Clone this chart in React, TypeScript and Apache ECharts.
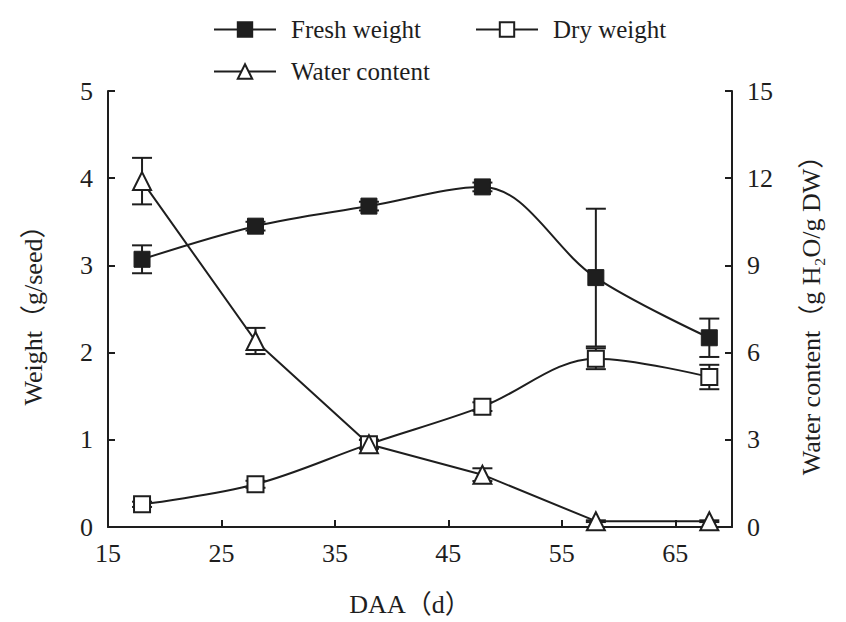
import React, { useEffect, useRef } from "react";
import * as echarts from "echarts";

// ---- Data ----
const daa = [18, 28, 38, 48, 58, 68];
const freshWeight = [3.07, 3.45, 3.68, 3.9, 2.86, 2.17];
const freshErr = [0.16, 0.05, 0.05, 0.05, 0.79, 0.22];
const dryWeight = [0.26, 0.49, 0.95, 1.38, 1.93, 1.72];
const dryErr = [0.03, 0.04, 0.05, 0.05, 0.12, 0.14];
const waterContent = [11.9, 6.4, 2.85, 1.8, 0.2, 0.2];
const waterErr = [0.8, 0.45, 0.15, 0.22, 0.03, 0.03];
const xTicks = [15, 25, 35, 45, 55, 65];

const FONT = "'Liberation Serif', 'Times New Roman', 'Noto Sans CJK SC', serif";
const INK = "#1e1e1e";

function pairs(xs: number[], ys: number[]) {
  return xs.map((x, i) => [x, ys[i]]);
}
function errRows(xs: number[], ys: number[], es: number[]) {
  return xs.map((x, i) => [x, ys[i] - es[i], ys[i] + es[i]]);
}

function errorSeries(name: string, rows: number[][], yAxisIndex: number) {
  return {
    type: "custom",
    name,
    yAxisIndex,
    z: 1,
    silent: true,
    data: rows,
    encode: { x: 0, y: [1, 2] },
    renderItem: (_params: any, api: any) => {
      const x = api.value(0);
      const lo = api.coord([x, api.value(1)]);
      const hi = api.coord([x, api.value(2)]);
      const half = 10;
      const style = { stroke: INK, lineWidth: 2 };
      return {
        type: "group",
        children: [
          { type: "line", shape: { x1: hi[0], y1: hi[1], x2: lo[0], y2: lo[1] }, style },
          { type: "line", shape: { x1: hi[0] - half, y1: hi[1], x2: hi[0] + half, y2: hi[1] }, style },
          { type: "line", shape: { x1: lo[0] - half, y1: lo[1], x2: lo[0] + half, y2: lo[1] }, style },
        ],
      };
    },
  };
}

export default function App() {
  const ref = useRef<HTMLDivElement>(null);
  useEffect(() => {
    document.body.style.margin = "0";
    const chart = echarts.init(ref.current!, null, { renderer: "svg" });
    const legendCommon = {
      itemWidth: 62,
      itemHeight: 18,
      selectedMode: false,
      textStyle: { fontFamily: FONT, fontSize: 25, color: INK, padding: [0, 0, 0, 10] },
    };
    const axisText = { fontFamily: FONT, fontSize: 26, color: INK };
    chart.setOption({
      animation: false,
      backgroundColor: "#fff",
      legend: [
        { ...legendCommon, data: ["Fresh weight"], left: 208, top: 12 },
        { ...legendCommon, data: ["Dry weight"], left: 470, top: 12 },
        { ...legendCommon, data: ["Water content"], left: 208, top: 54 },
      ],
      grid: { left: 108, right: 114, top: 91, bottom: 91 },
      xAxis: {
        type: "value",
        min: 15,
        max: 70,
        name: "DAA（d）",
        nameLocation: "middle",
        nameGap: 64,
        nameTextStyle: { ...axisText, padding: [0, 20, 0, 0] },
        axisLine: { show: true, lineStyle: { color: INK, width: 2 } },
        axisTick: { show: true, inside: true, length: 7, lineStyle: { color: INK, width: 2 }, customValues: xTicks },
        axisLabel: { ...axisText, margin: 13, customValues: xTicks },
        splitLine: { show: false },
      },
      yAxis: [
        {
          type: "value",
          min: 0,
          max: 5,
          interval: 1,
          position: "left",
          name: "Weight（g/seed）",
          nameLocation: "middle",
          nameRotate: 90,
          nameGap: 62,
          nameTextStyle: { ...axisText },
          axisLine: { show: true, lineStyle: { color: INK, width: 2 } },
          axisTick: { show: true, inside: true, length: 7, lineStyle: { color: INK, width: 2 } },
          axisLabel: { ...axisText, margin: 15 },
          splitLine: { show: false },
        },
        {
          type: "value",
          min: 0,
          max: 15,
          interval: 3,
          position: "right",
          name: "Water content（g H₂O/g DW）",
          nameLocation: "middle",
          nameRotate: 90,
          nameGap: 66,
          nameTextStyle: { ...axisText },
          axisLine: { show: true, lineStyle: { color: INK, width: 2 } },
          axisTick: { show: true, inside: true, length: 7, lineStyle: { color: INK, width: 2 } },
          axisLabel: { ...axisText, margin: 15 },
          splitLine: { show: false },
        },
      ],
      series: [
        errorSeries("fresh-err", errRows(daa, freshWeight, freshErr), 0),
        errorSeries("dry-err", errRows(daa, dryWeight, dryErr), 0),
        errorSeries("water-err", errRows(daa, waterContent, waterErr), 1),
        {
          type: "line",
          name: "Fresh weight",
          yAxisIndex: 0,
          z: 3,
          data: pairs(daa, freshWeight),
          smooth: 0.35,
          symbol: "rect",
          symbolSize: 16,
          lineStyle: { color: INK, width: 2 },
          itemStyle: { color: INK, borderColor: INK, borderWidth: 1 },
        },
        {
          type: "line",
          name: "Dry weight",
          yAxisIndex: 0,
          z: 3,
          data: pairs(daa, dryWeight),
          smooth: 0.35,
          symbol: "rect",
          symbolSize: 16,
          lineStyle: { color: INK, width: 2 },
          itemStyle: { color: "#fff", borderColor: INK, borderWidth: 2 },
        },
        {
          type: "line",
          name: "Water content",
          yAxisIndex: 1,
          z: 3,
          data: pairs(daa, waterContent),
          smooth: false,
          symbol: "triangle",
          symbolSize: 18,
          lineStyle: { color: INK, width: 2 },
          itemStyle: { color: "#fff", borderColor: INK, borderWidth: 2 },
        },
      ],
    });
    return () => chart.dispose();
  }, []);
  return (
    <div
      ref={ref}
      style={{ position: "fixed", left: 0, top: 0, width: 846, height: 622, background: "#fff" }}
    />
  );
}
